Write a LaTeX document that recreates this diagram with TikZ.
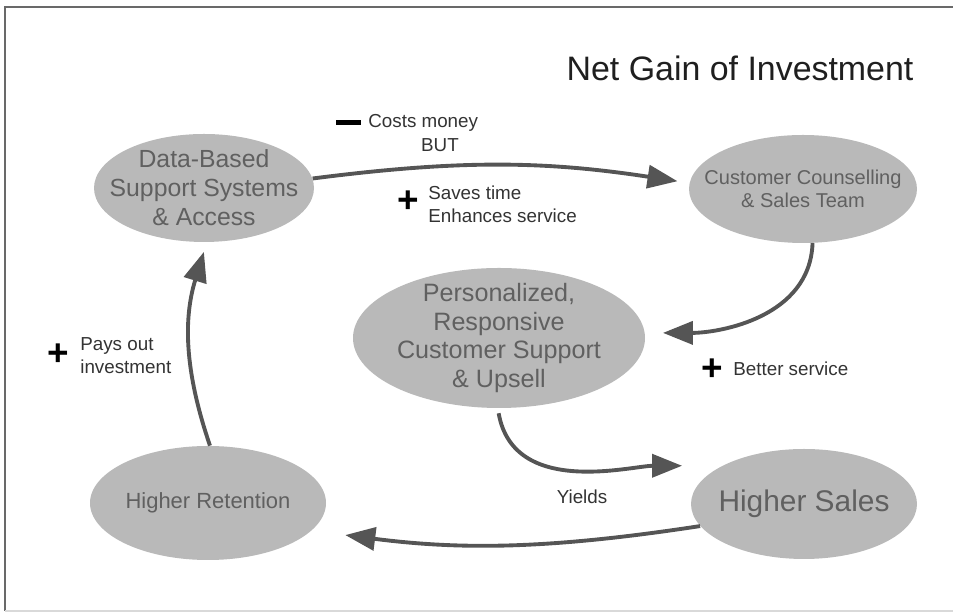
\documentclass[tikz,border=0pt]{standalone}
\usepackage{fontspec}
\setmainfont{Liberation Sans}
\usetikzlibrary{shapes.geometric,arrows.meta}
\definecolor{bubblegray}{RGB}{185,185,185}
\definecolor{bubbletext}{RGB}{96,96,96}
\definecolor{arrowgray}{RGB}{85,85,85}
\definecolor{notetext}{RGB}{51,51,51}
\definecolor{frameline}{RGB}{105,105,105}
\newcommand{\px}{0.02cm}
\newcommand{\fs}[2]{\fontsize{#1}{#2}\selectfont}
\tikzset{
    bubble/.style={ellipse, fill=bubblegray, text=bubbletext, align=center, inner sep=-1cm},
    flow/.style={draw=arrowgray, line width=2.2pt, -{Triangle[length=0.6cm, width=0.46cm]}},
    note/.style={anchor=west, text=notetext, align=left, inner sep=0pt, font=\fs{10.7}{13}},
    plussign/.style={inner sep=0pt, font=\fs{21}{21}\bfseries},
    minussign/.style={fill=black, inner sep=0pt, minimum width=0.5cm, minimum height=0.1cm}
}

\begin{document}
\begin{tikzpicture}[x=\px, y=\px]
    \useasboundingbox (0,0) rectangle (953,614);
    \draw[frameline, line width=1.2pt] (5,3) -- (5,607) -- (953,607);
    \draw[black!15, line width=1pt] (5,3) -- (953,3);

    \node[text=black!88, inner sep=0pt, font=\fs{19.3}{22}] (title) at (740,546) {Net Gain of Investment};

    \node[bubble, minimum width=220*\px, minimum height=108*\px, font=\fs{14.1}{16.5}] (data) at (204,426) {Data-Based\\Support Systems\\\& Access};
    \node[bubble, minimum width=228*\px, minimum height=108*\px, font=\fs{11.4}{13}] (couns) at (803,425) {Customer Counselling\\\& Sales Team};
    \node[bubble, minimum width=292*\px, minimum height=140*\px, font=\fs{14.3}{16.2}] (pers) at (499,276) {Personalized,\\Responsive\\Customer Support\\\& Upsell};
    \node[bubble, minimum width=236*\px, minimum height=114*\px, font=\fs{12.5}{15}] (ret) at (208,111) {Higher Retention};
    \node[bubble, minimum width=226*\px, minimum height=110*\px, font=\fs{17}{20}] (sales) at (804,110) {Higher Sales};

    \draw[flow, shorten >=0.24cm] (data.5) to[bend left=8] (couns.177);
    \draw[flow, shorten >=0.36cm] (couns.-80) to[out=-92, in=0] (pers.2);
    \draw[flow, shorten <=0.1cm, shorten >=0.8cm] (pers.-91) to[out=-80, in=180] (sales.155);
    \draw[flow, shorten >=0.68cm] (sales.192) to[bend left=8] (ret.-15);
    \draw[flow, shorten >=0.2cm] (ret.88) to[bend left=18] (data.-87);

    \path (348,491) node[minussign] (costsign) {}
        to ++(20,0) node[note] (costs) {Costs money};
    \node[note, anchor=center] (but) at (440,469) {BUT};
    \path (408,412) node[plussign] (savesign) {+}
        to ++(20,-2) node[note] (saves) {Saves time\\Enhances service};
    \path (712,244) node[plussign] (bettersign) {+}
        to ++(21,1) node[note] (better) {Better service};
    \path (58,259) node[plussign] (payssign) {+}
        to ++(22,-1) node[note] (pays) {Pays out\\investment};
    \node[note, anchor=center] (yields) at (582,117) {Yields};
\end{tikzpicture}
\end{document}
